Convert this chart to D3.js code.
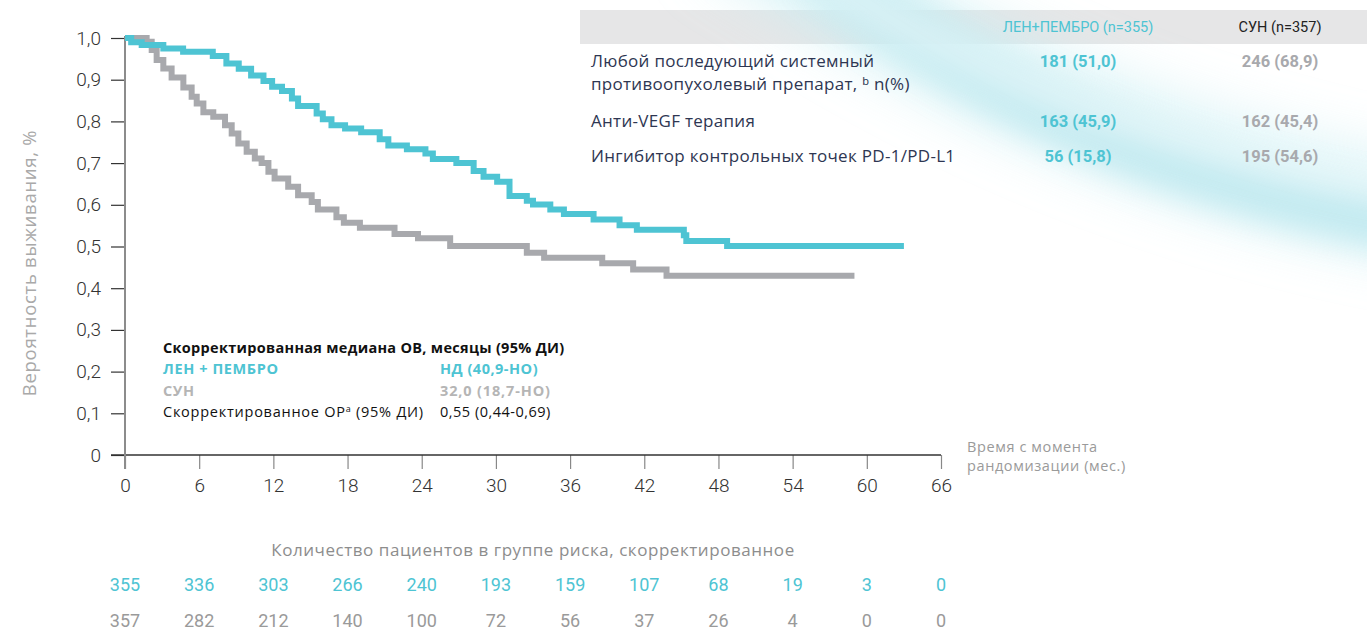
<!DOCTYPE html>
<html lang="ru">
<head>
<meta charset="utf-8">
<script src="https://cdn.jsdelivr.net/npm/d3@7"></script>
<style>
  html, body { margin: 0; padding: 0; background: #fff; }
  svg { display: block; }
  text { font-family: Roboto, "Noto Sans", sans-serif; }
  text.wide { font-family: "Open Sans", "Noto Sans", sans-serif; }
</style>
</head>
<body>
<svg id="chart" width="1367" height="630"></svg>
<script>
// Kaplan–Meier step curves: time (months) and survival probability
const lenPembroTime = [0, 0.5, 1.35, 3.1, 4.7, 7.1, 8.2, 9.2, 10.2, 11.2, 11.9, 12.7, 13.5, 14.0, 15.5, 16.0, 16.7, 17.8, 19.1, 20.6, 21.3, 22.8, 24.3, 24.9, 26.8, 28.2, 29.0, 30.1, 31.1, 32.5, 33.0, 34.4, 35.5, 37.9, 40.0, 41.4, 45.2, 45.4, 48.7, 63.0];
const lenPembroSurv = [1.0, 0.99, 0.983, 0.975, 0.967, 0.957, 0.939, 0.926, 0.91, 0.897, 0.883, 0.873, 0.855, 0.837, 0.819, 0.805, 0.791, 0.783, 0.774, 0.757, 0.742, 0.733, 0.723, 0.71, 0.70, 0.681, 0.667, 0.655, 0.621, 0.61, 0.601, 0.589, 0.578, 0.565, 0.551, 0.54, 0.527, 0.513, 0.501, 0.501];

const sunTime = [0, 1.75, 2.16, 2.56, 3.1, 3.77, 4.72, 5.39, 5.8, 6.34, 7.14, 8.09, 8.63, 9.17, 9.84, 10.5, 11.05, 11.6, 12.1, 13.2, 14.0, 15.1, 15.6, 17.1, 17.7, 19.0, 21.8, 23.7, 26.3, 32.5, 33.9, 38.6, 41.1, 43.8, 59.0];
const sunSurv = [1.0, 0.991, 0.971, 0.947, 0.927, 0.905, 0.881, 0.859, 0.843, 0.822, 0.811, 0.791, 0.771, 0.747, 0.727, 0.711, 0.70, 0.679, 0.663, 0.643, 0.623, 0.607, 0.589, 0.57, 0.557, 0.545, 0.53, 0.52, 0.501, 0.485, 0.473, 0.46, 0.445, 0.43, 0.43];

// Axis ticks
const xTicks = [0, 6, 12, 18, 24, 30, 36, 42, 48, 54, 60, 66];
const yTicks = [0, 0.1, 0.2, 0.3, 0.4, 0.5, 0.6, 0.7, 0.8, 0.9, 1.0];

// Number at risk at each x tick
const riskLenPembro = [355, 336, 303, 266, 240, 193, 159, 107, 68, 19, 3, 0];
const riskSun = [357, 282, 212, 140, 100, 72, 56, 37, 26, 4, 0, 0];

// Subsequent therapy table
const therapyRows = [
  ["Любой последующий системный", "противоопухолевый препарат, \u1D47 n(%)"],
  ["Анти-VEGF терапия"],
  ["Ингибитор контрольных точек PD-1/PD-L1"]
];
const therapyLenPembro = ["181 (51,0)", "163 (45,9)", "56 (15,8)"];
const therapySun = ["246 (68,9)", "162 (45,4)", "195 (54,6)"];

const TEAL = "#4ec4d3";
const GREY = "#a8a9ad";
const DARK = "#333333";

const svg = d3.select("#chart");

// soft decorative swoosh in the background
const defs = svg.append("defs");
defs.append("filter").attr("id", "soft")
  .attr("x", "-50%").attr("y", "-50%").attr("width", "200%").attr("height", "200%")
  .append("feGaussianBlur").attr("stdDeviation", 16);
defs.append("filter").attr("id", "softer")
  .attr("x", "-50%").attr("y", "-50%").attr("width", "200%").attr("height", "200%")
  .append("feGaussianBlur").attr("stdDeviation", 28);

const x = d3.scaleLinear().domain([0, 66]).range([125, 941]);
const y = d3.scaleLinear().domain([0, 1]).range([455, 38]);

// table header band
svg.append("rect").attr("x", 580).attr("y", 10).attr("width", 787).attr("height", 34).attr("fill", "#e6e6e7");

svg.append("path")
  .attr("d", "M 720 -80 C 870 10, 1070 150, 1440 215")
  .attr("fill", "none").attr("stroke", "#c9eef3").attr("stroke-width", 90)
  .attr("opacity", 0.7).attr("filter", "url(#softer)");
svg.append("path")
  .attr("d", "M 810 -40 C 930 55, 1110 175, 1440 230")
  .attr("fill", "none").attr("stroke", "#bde8ef").attr("stroke-width", 55)
  .attr("opacity", 0.85).attr("filter", "url(#soft)");
svg.append("path")
  .attr("d", "M 780 -50 C 900 30, 1080 140, 1440 198")
  .attr("fill", "none").attr("stroke", "#ffffff").attr("stroke-width", 22)
  .attr("opacity", 0.6).attr("filter", "url(#soft)");

// header texts
svg.append("text").attr("x", 1078).attr("y", 32).attr("text-anchor", "middle")
  .attr("font-size", 14.5).attr("fill", TEAL).text("ЛЕН+ПЕМБРО (n=355)");
svg.append("text").attr("x", 1280).attr("y", 32).attr("text-anchor", "middle")
  .attr("font-size", 14.5).attr("fill", "#222").text("СУН (n=357)");

const rowY = [67, 127, 162];
therapyRows.forEach((lines, i) => {
  lines.forEach((ln, j) => {
    svg.append("text").attr("class", "wide").attr("x", 591).attr("y", rowY[i] + j * 23)
      .attr("font-size", 17).attr("letter-spacing", 0.3).attr("fill", "#2e3652").text(ln);
  });
  svg.append("text").attr("x", 1078).attr("y", rowY[i]).attr("text-anchor", "middle")
    .attr("font-size", 16.5).attr("font-weight", 700).attr("fill", TEAL).text(therapyLenPembro[i]);
  svg.append("text").attr("x", 1280).attr("y", rowY[i]).attr("text-anchor", "middle")
    .attr("font-size", 16.5).attr("font-weight", 700).attr("fill", GREY).text(therapySun[i]);
});

// axes
const fmt = d => d === 0 ? "0" : d3.format(".1f")(d).replace(".", ",");
const yAxis = svg.append("g").attr("transform", "translate(125,0)")
  .call(d3.axisLeft(y).tickValues(yTicks).tickFormat(fmt).tickSize(14).tickPadding(10));
yAxis.select(".domain").remove();
yAxis.selectAll(".tick line").attr("stroke", DARK).attr("stroke-width", 1.2);
yAxis.selectAll(".tick text").attr("font-size", 19).attr("fill", DARK)
  .attr("font-family", "Roboto, sans-serif").attr("font-weight", 300);

const xAxis = svg.append("g").attr("transform", "translate(0,455)")
  .call(d3.axisBottom(x).tickValues(xTicks).tickSize(14).tickPadding(10));
xAxis.select(".domain").remove();
xAxis.selectAll(".tick line").attr("stroke", "#888").attr("stroke-width", 1.2);
xAxis.selectAll(".tick text").attr("font-size", 19).attr("fill", DARK)
  .attr("font-family", "Roboto, sans-serif").attr("font-weight", 300);

svg.append("line").attr("x1", 111).attr("x2", 941).attr("y1", 455).attr("y2", 455)
  .attr("stroke", DARK).attr("stroke-width", 1.6);
svg.append("line").attr("x1", 125).attr("x2", 125).attr("y1", 36).attr("y2", 469)
  .attr("stroke", "#8c8c8c").attr("stroke-width", 2);

// axis titles
svg.append("text").attr("class", "wide").attr("transform", "translate(36,263) rotate(-90)")
  .attr("text-anchor", "middle").attr("font-size", 18.5).attr("letter-spacing", 0.7)
  .attr("fill", "#a9a9a9").text("Вероятность выживания, %");
svg.append("text").attr("class", "wide").attr("x", 967).attr("y", 452).attr("font-size", 14.5)
  .attr("letter-spacing", 0.6).attr("fill", "#9a9a9a").text("Время с момента");
svg.append("text").attr("class", "wide").attr("x", 967).attr("y", 471).attr("font-size", 14.5)
  .attr("letter-spacing", 0.6).attr("fill", "#9a9a9a").text("рандомизации (мес.)");

// survival curves
const step = d3.line().x(d => x(d[0])).y(d => y(d[1])).curve(d3.curveStepAfter);
svg.append("path").datum(d3.zip(sunTime, sunSurv))
  .attr("d", step).attr("fill", "none").attr("stroke", GREY).attr("stroke-width", 6);
svg.append("path").datum(d3.zip(lenPembroTime, lenPembroSurv))
  .attr("d", step).attr("fill", "none").attr("stroke", TEAL).attr("stroke-width", 6);

// median OS annotation
const ann = svg.append("g");
const annText = (xp, yp, txt, color, bold, ls) => ann.append("text").attr("class", "wide")
  .attr("x", xp).attr("y", yp).attr("font-size", 14.5).attr("font-weight", bold ? 700 : 400)
  .attr("letter-spacing", ls).attr("fill", color).text(txt);
annText(163, 353, "Скорректированная медиана ОВ, месяцы (95% ДИ)", "#111", true, 0.3);
annText(163, 374, "ЛЕН + ПЕМБРО", TEAL, true, 0.6);
annText(440, 374, "НД (40,9-НО)", TEAL, true, 0.5);
annText(163, 396, "СУН", "#b5b5b5", true, 0.6);
annText(440, 396, "32,0 (18,7-НО)", "#b5b5b5", true, 0.85);
const hr = ann.append("text").attr("class", "wide").attr("x", 163).attr("y", 417)
  .attr("font-size", 14.5).attr("letter-spacing", 0.75).attr("fill", "#111");
hr.append("tspan").text("Скорректированное ОР");
hr.append("tspan").attr("font-size", 9).attr("dy", -5).text("a");
hr.append("tspan").attr("dy", 5).text(" (95% ДИ)");
annText(440, 417, "0,55 (0,44-0,69)", "#111", false, 0.5);

// number at risk table
svg.append("text").attr("class", "wide").attr("x", 533).attr("y", 556).attr("text-anchor", "middle")
  .attr("font-size", 17).attr("letter-spacing", 0.55).attr("fill", "#8d8d8d")
  .text("Количество пациентов в группе риска, скорректированное");
svg.append("g").selectAll("text").data(d3.zip(xTicks, riskLenPembro)).join("text")
  .attr("x", d => x(d[0])).attr("y", 591).attr("text-anchor", "middle")
  .attr("font-size", 18).attr("fill", TEAL).text(d => d[1]);
svg.append("g").selectAll("text").data(d3.zip(xTicks, riskSun)).join("text")
  .attr("x", d => x(d[0])).attr("y", 627).attr("text-anchor", "middle")
  .attr("font-size", 18).attr("fill", "#9a9a9a").text(d => d[1]);
</script>
</body>
</html>
